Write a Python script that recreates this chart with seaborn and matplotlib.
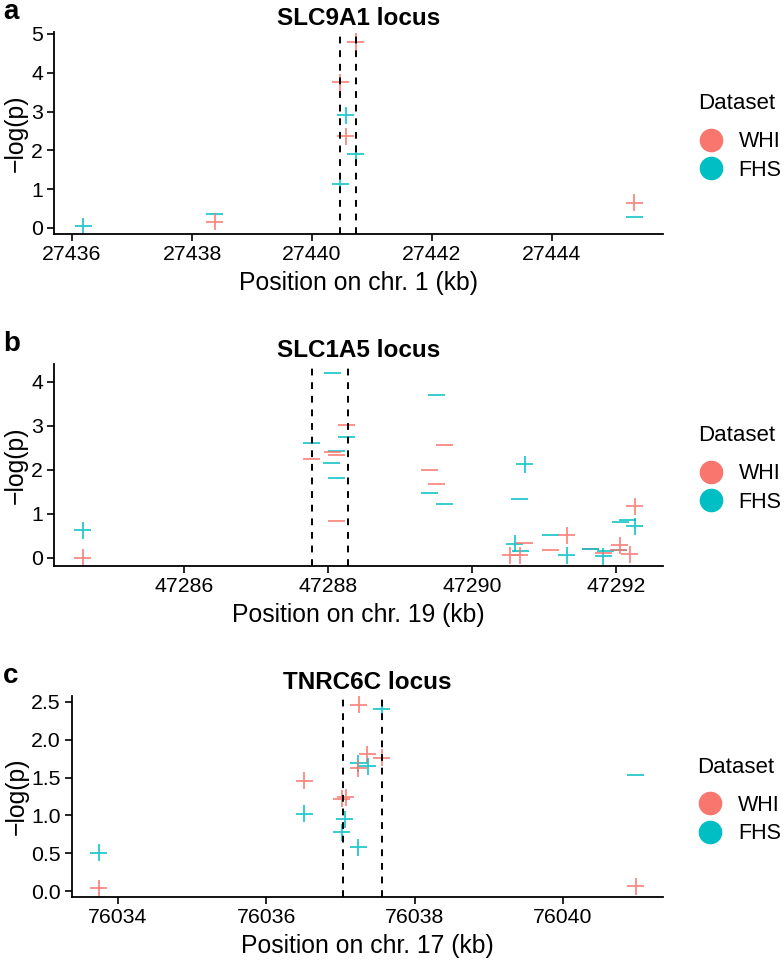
import numpy as np
import pandas as pd
import matplotlib
matplotlib.use('Agg')
import matplotlib.pyplot as plt
import seaborn as sns
from matplotlib.lines import Line2D

# ---- data ----
datasets = ['WHI', 'FHS']
palette = {'WHI': '#F8766D', 'FHS': '#00BFC4'}

# panel a: SLC9A1
a_pos = [27436.19, 27438.38, 27438.38, 27440.47, 27440.73, 27440.56,
         27440.56, 27440.73, 27440.47, 27445.37, 27445.37]
a_logp = [0.05, 0.36, 0.16, 3.75, 4.80, 2.90, 2.37, 1.91, 1.13, 0.65, 0.29]
a_set = ['FHS', 'FHS', 'WHI', 'WHI', 'WHI', 'FHS', 'WHI', 'FHS', 'FHS', 'WHI', 'FHS']
a_sign = ['+', '-', '+', '+', '+', '+', '+', '+', '+', '+', '-']
a_lines = [27440.47, 27440.73]
a_xticks = [27436, 27438, 27440, 27442, 27444]
a_yticks = [0, 1, 2, 3, 4, 5]

# panel b: SLC1A5
b_pos = [47284.59, 47284.59, 47288.06, 47288.26, 47288.26, 47287.77, 47288.11,
         47288.06, 47288.11, 47287.77, 47288.04, 47288.11, 47288.11, 47289.50,
         47289.61, 47289.41, 47289.51, 47289.41, 47289.61, 47290.73, 47290.66,
         47290.59, 47290.72, 47290.67, 47290.53, 47290.66, 47291.09, 47291.31,
         47291.09, 47291.31, 47291.64, 47291.64, 47291.82, 47291.85, 47291.83,
         47292.05, 47292.03, 47292.03, 47292.19, 47292.06, 47292.16, 47292.26,
         47292.26]
b_logp = [0.62, 0.00, 4.19, 3.02, 2.74, 2.60, 2.43, 2.41, 2.34, 2.23, 2.14,
          1.81, 0.83, 3.70, 2.57, 1.99, 1.67, 1.46, 1.22, 2.12, 1.33, 0.32,
          0.33, 0.15, 0.05, 0.05, 0.51, 0.51, 0.17, 0.05, 0.20, 0.20, 0.03,
          0.15, 0.10, 0.28, 0.17, 0.18, 0.08, 0.81, 0.85, 0.71, 1.17]
b_set = ['FHS', 'WHI', 'FHS', 'WHI', 'FHS', 'FHS', 'FHS', 'WHI', 'WHI', 'WHI',
         'FHS', 'FHS', 'WHI', 'FHS', 'WHI', 'WHI', 'WHI', 'FHS', 'FHS', 'FHS',
         'FHS', 'FHS', 'WHI', 'FHS', 'WHI', 'WHI', 'FHS', 'WHI', 'WHI', 'FHS',
         'WHI', 'FHS', 'FHS', 'FHS', 'WHI', 'WHI', 'FHS', 'WHI', 'WHI', 'FHS',
         'FHS', 'FHS', 'WHI']
b_sign = ['+', '+', '-', '-', '-', '-', '-', '-', '-', '-', '-', '-', '-', '-',
          '-', '-', '-', '-', '-', '+', '-', '+', '-', '-', '+', '+', '-', '+',
          '-', '+', '-', '-', '+', '-', '-', '+', '-', '-', '+', '-', '-', '+',
          '+']
b_lines = [47287.78, 47288.27]
b_xticks = [47286, 47288, 47290, 47292]
b_yticks = [0, 1, 2, 3, 4]

# panel c: TNRC6C
c_pos = [76033.74, 76033.74, 76036.51, 76036.51, 76037.25, 76037.56, 76037.36,
         76037.56, 76037.24, 76037.37, 76037.24, 76037.02, 76037.07, 76037.06,
         76037.02, 76037.24, 76040.98, 76040.98]
c_logp = [0.51, 0.04, 1.46, 1.02, 2.46, 2.41, 1.81, 1.76, 1.69, 1.65, 1.62,
          1.22, 1.24, 0.95, 0.78, 0.58, 1.54, 0.07]
c_set = ['FHS', 'WHI', 'WHI', 'FHS', 'WHI', 'FHS', 'WHI', 'WHI', 'FHS', 'FHS',
         'WHI', 'WHI', 'WHI', 'FHS', 'FHS', 'FHS', 'FHS', 'WHI']
c_sign = ['+'] * 16 + ['-', '+']
c_lines = [76037.04, 76037.56]
c_xticks = [76034, 76036, 76038, 76040]
c_yticks = [0.0, 0.5, 1.0, 1.5, 2.0, 2.5]

panels = [
    ('a', 'SLC9A1 locus', 'Position on chr. 1 (kb)', a_pos, a_logp, a_set, a_sign,
     a_lines, a_xticks, a_yticks, (27435.7, 27445.85), (-0.155, 5.05), '%d'),
    ('b', 'SLC1A5 locus', 'Position on chr. 19 (kb)', b_pos, b_logp, b_set, b_sign,
     b_lines, b_xticks, b_yticks, (47284.19, 47292.65), (-0.19, 4.40), '%d'),
    ('c', 'TNRC6C locus', 'Position on chr. 17 (kb)', c_pos, c_logp, c_set, c_sign,
     c_lines, c_xticks, c_yticks, (76033.38, 76041.35), (-0.075, 2.576), '%.1f'),
]

sns.set_style('white', {'xtick.bottom': True, 'ytick.left': True,
                        'text.color': 'black', 'axes.labelcolor': 'black',
                        'xtick.color': 'black', 'ytick.color': 'black'})
plt.rcParams['font.family'] = ['Liberation Sans', 'DejaVu Sans']

W, H = 784, 965
fig = plt.figure(figsize=(W / 100, H / 100), dpi=100)

# axes boxes in pixels: (left, top, right, bottom)
boxes = [(54, 32, 663, 234), (54, 364, 663, 566), (72, 696, 663, 897)]

for (letter, title, xlabel, pos, logp, dset, sign, vlines, xt, yt, xl, yl, yfmt), box in zip(panels, boxes):
    l, t, r, b = box
    ax = fig.add_axes([l / W, 1 - b / H, (r - l) / W, (b - t) / H])
    df = pd.DataFrame({'pos': pos, 'logp': logp, 'Dataset': dset, 'Sign': sign})
    sns.scatterplot(data=df, x='pos', y='logp', hue='Dataset', style='Sign',
                    hue_order=datasets, palette=palette,
                    markers={'+': '+', '-': '_'}, s=150, linewidth=1.3,
                    alpha=0.85, legend=False, ax=ax)
    for v in vlines:
        ax.axvline(v, color='black', linestyle=(0, (3.5, 3.5)), linewidth=1.4, zorder=3)
    ax.set_xlim(*xl)
    ax.set_ylim(*yl)
    ax.set_xticks(xt)
    ax.set_xticklabels([str(v) for v in xt])
    ax.set_yticks(yt)
    ax.set_yticklabels([yfmt % v for v in yt])
    for s in ['top', 'right']:
        ax.spines[s].set_visible(False)
    for s in ['left', 'bottom']:
        ax.spines[s].set_color('black')
        ax.spines[s].set_linewidth(1.3)
    ax.tick_params(axis='both', direction='out', length=5, width=1.2,
                   bottom=True, left=True, color='black', labelsize=15.3,
                   labelcolor='black', pad=3)
    ax.set_xlabel(xlabel, fontsize=17.8, labelpad=5, color='black')
    ax.set_ylabel('\u2212log(p)', fontsize=17.8, labelpad=2, color='black')
    ax.set_title(title, fontsize=17.5, fontweight='bold', pad=5, color='black')
    fig.text(3 / W, 1 - (t - 20) / H, letter, fontsize=20, fontweight='bold',
             ha='left', va='center', color='black')
    handles = [Line2D([], [], marker='o', linestyle='', markersize=16,
                      markerfacecolor=palette[d], markeredgecolor=palette[d])
               for d in datasets]
    leg = ax.legend(handles, datasets, title='Dataset', loc='center left',
                    bbox_to_anchor=(1.05, 0.48), frameon=False, fontsize=15.5,
                    title_fontsize=16, handletextpad=0.7, labelspacing=0.35,
                    borderaxespad=0, borderpad=0.2, handlelength=1.2)
    leg._legend_box.align = 'left'
    leg._legend_box.sep = 12

fig.savefig('out.png', dpi=100)
